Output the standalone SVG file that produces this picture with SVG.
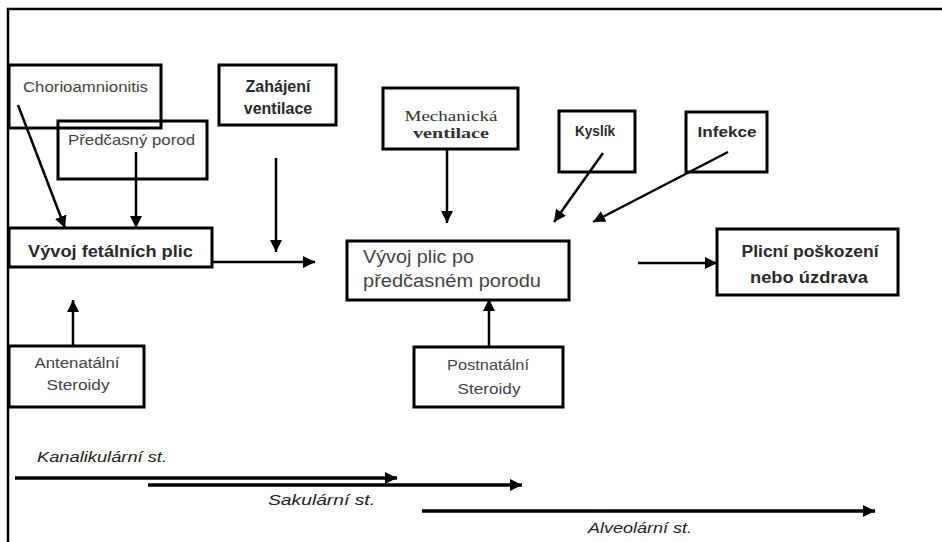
<svg xmlns="http://www.w3.org/2000/svg" width="942" height="542" viewBox="0 0 942 542">
<style>
.box{fill:none;stroke:#000;stroke-width:3}
.frame{fill:none;stroke:#000;stroke-width:2.5}
.con{fill:none;stroke:#000;stroke-width:2.5;marker-end:url(#ah)}
.tl{fill:none;stroke:#000;stroke-width:3.5;marker-end:url(#ah2)}
.t{font-family:"Liberation Sans",Arial,sans-serif;fill:#444}
.tb{font-family:"Liberation Sans",Arial,sans-serif;font-weight:bold;fill:#2a2a2a}
.ts{font-family:"Liberation Serif","Times New Roman",serif;fill:#333}
.ti{font-family:"Liberation Sans",Arial,sans-serif;font-style:italic;fill:#222}
</style>
<defs>
<marker id="ah" markerUnits="userSpaceOnUse" markerWidth="14" markerHeight="12" refX="12" refY="6" orient="auto"><path d="M0,0 L12,6 L0,12 Z" fill="#000"/></marker>
<marker id="ah2" markerUnits="userSpaceOnUse" markerWidth="14" markerHeight="12" refX="12" refY="6" orient="auto"><path d="M0,0 L12,6 L0,12 Z" fill="#000"/></marker>
</defs>
<rect width="942" height="542" fill="#fff"/>
<path class="frame" d="M8,542 V9 H942"/>

<g id="chorioamnionitis">
<rect class="box" x="9" y="65" width="152" height="63"/>
<text class="t" x="23" y="92" font-size="15" textLength="125" lengthAdjust="spacingAndGlyphs" fill="#555">Chorioamnionitis</text>
</g>
<g id="predcasny-porod">
<rect class="box" x="58" y="121" width="149" height="58"/>
<text class="t" x="68" y="145" font-size="15" textLength="127" lengthAdjust="spacingAndGlyphs">Předčasný porod</text>
</g>
<g id="zahajeni-ventilace">
<rect class="box" x="219" y="65" width="117" height="60"/>
<text class="tb" x="278" y="92" font-size="16" text-anchor="middle">Zahájení</text>
<text class="tb" x="278" y="114" font-size="16" text-anchor="middle">ventilace</text>
</g>
<g id="vyvoj-fetalnich-plic">
<rect class="box" x="9" y="228" width="203" height="39"/>
<text class="tb" x="28" y="257" font-size="17" textLength="165" lengthAdjust="spacingAndGlyphs">Vývoj fetálních plic</text>
</g>
<g id="mechanicka-ventilace">
<rect class="box" x="383" y="88" width="135" height="61"/>
<text class="ts" x="451" y="121" font-size="15" text-anchor="middle" textLength="93" lengthAdjust="spacingAndGlyphs">Mechanická</text>
<text class="ts" x="451" y="138" font-size="15" font-weight="bold" text-anchor="middle" textLength="76" lengthAdjust="spacingAndGlyphs">ventilace</text>
</g>
<g id="kyslik">
<rect class="box" x="559" y="111" width="76" height="61"/>
<text class="tb" x="595" y="136" font-size="15" text-anchor="middle" textLength="40" lengthAdjust="spacingAndGlyphs">Kyslík</text>
</g>
<g id="infekce">
<rect class="box" x="686" y="112" width="81" height="60"/>
<text class="tb" x="727" y="137" font-size="15" text-anchor="middle" textLength="59" lengthAdjust="spacingAndGlyphs">Infekce</text>
</g>
<g id="vyvoj-plic-po-porodu">
<rect class="box" x="347" y="241" width="222" height="59"/>
<text class="t" x="363" y="263" font-size="18" textLength="111" lengthAdjust="spacingAndGlyphs" fill="#333">Vývoj plic po</text>
<text class="t" x="363" y="287" font-size="18" textLength="178" lengthAdjust="spacingAndGlyphs" fill="#333">předčasném porodu</text>
</g>
<g id="plicni-poskozeni">
<rect class="box" x="717" y="229" width="181" height="66"/>
<text class="tb" x="810" y="257" font-size="16" text-anchor="middle" textLength="137" lengthAdjust="spacingAndGlyphs">Plicní poškození</text>
<text class="tb" x="809" y="283" font-size="16" text-anchor="middle" textLength="118" lengthAdjust="spacingAndGlyphs">nebo úzdrava</text>
</g>
<g id="antenatalni-steroidy">
<rect class="box" x="9" y="346" width="135" height="61"/>
<text class="t" x="77" y="368" font-size="14" text-anchor="middle" textLength="85" lengthAdjust="spacingAndGlyphs">Antenatální</text>
<text class="t" x="78" y="390" font-size="14" text-anchor="middle" textLength="63" lengthAdjust="spacingAndGlyphs">Steroidy</text>
</g>
<g id="postnatalni-steroidy">
<rect class="box" x="414" y="347" width="149" height="60"/>
<text class="t" x="488" y="370" font-size="14" text-anchor="middle" textLength="82" lengthAdjust="spacingAndGlyphs">Postnatální</text>
<text class="t" x="489" y="394" font-size="14" text-anchor="middle" textLength="63" lengthAdjust="spacingAndGlyphs">Steroidy</text>
</g>

<g id="connectors">
<line class="con" x1="18" y1="105" x2="65" y2="228"/>
<line class="con" x1="136" y1="152" x2="136" y2="228"/>
<line class="con" x1="276" y1="158" x2="276" y2="252"/>
<line class="con" x1="212" y1="262" x2="315" y2="262"/>
<line class="con" x1="447" y1="149" x2="447" y2="223"/>
<line class="con" x1="603" y1="153" x2="554" y2="222"/>
<line class="con" x1="728" y1="152" x2="593" y2="222"/>
<line class="con" x1="638" y1="263" x2="717" y2="263"/>
<line class="con" x1="73" y1="346" x2="73" y2="300"/>
<line class="con" x1="489" y1="347" x2="489" y2="299"/>
</g>

<g id="timeline">
<line class="tl" x1="15" y1="478" x2="397" y2="478"/>
<line class="tl" x1="148" y1="485" x2="522" y2="485"/>
<line class="tl" x1="422" y1="511" x2="875" y2="511"/>
<text class="ti" x="37" y="462" font-size="15" textLength="130" lengthAdjust="spacingAndGlyphs">Kanalikulární st.</text>
<text class="ti" x="268" y="505" font-size="15" textLength="107" lengthAdjust="spacingAndGlyphs">Sakulární st.</text>
<text class="ti" x="588" y="533" font-size="15" textLength="104" lengthAdjust="spacingAndGlyphs">Alveolární st.</text>
</g>
</svg>
